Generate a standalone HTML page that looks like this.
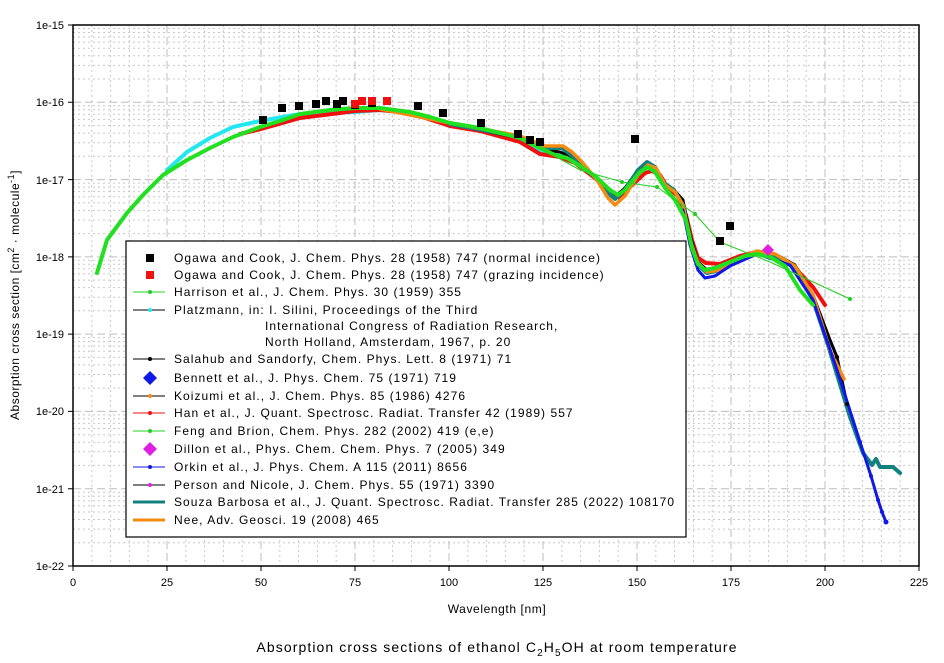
<!DOCTYPE html>
<html><head><meta charset="utf-8"><style>
body{margin:0;background:#fff;}
svg{display:block;font-family:"Liberation Sans",sans-serif;}
</style></head><body>
<svg width="944" height="663" viewBox="0 0 944 663" xmlns="http://www.w3.org/2000/svg">
<rect width="944" height="663" fill="#fff"/>
<g stroke="#c8c8c8" stroke-width="1" stroke-dasharray="2,3">
<path d="M91.8 25V566M110.6 25V566M129.4 25V566M148.2 25V566M185.8 25V566M204.6 25V566M223.4 25V566M242.2 25V566M279.8 25V566M298.6 25V566M317.4 25V566M336.2 25V566M373.8 25V566M392.6 25V566M411.4 25V566M430.2 25V566M467.8 25V566M486.6 25V566M505.4 25V566M524.2 25V566M561.8 25V566M580.6 25V566M599.4 25V566M618.2 25V566M655.8 25V566M674.6 25V566M693.4 25V566M712.2 25V566M749.8 25V566M768.6 25V566M787.4 25V566M806.2 25V566M843.8 25V566M862.6 25V566M881.4 25V566M900.2 25V566"/>
<path d="M73 542.7H919M73 529.1H919M73 519.5H919M73 512H919M73 505.8H919M73 500.7H919M73 496.2H919M73 492.2H919
M73 465.4H919M73 451.8H919M73 442.2H919M73 434.7H919M73 428.5H919M73 423.4H919M73 418.9H919M73 414.9H919
M73 388.1H919M73 374.5H919M73 364.9H919M73 357.4H919M73 351.2H919M73 346.1H919M73 341.6H919M73 337.6H919
M73 310.8H919M73 297.2H919M73 287.6H919M73 280.1H919M73 273.9H919M73 268.8H919M73 264.3H919M73 260.3H919
M73 233.6H919M73 220H919M73 210.4H919M73 202.9H919M73 196.7H919M73 191.6H919M73 187.1H919M73 183.1H919
M73 156.3H919M73 142.7H919M73 133.1H919M73 125.6H919M73 119.4H919M73 114.3H919M73 109.8H919M73 105.8H919
M73 79H919M73 65.4H919M73 55.8H919M73 48.3H919M73 42.1H919M73 37H919M73 32.5H919M73 28.5H919"/>
</g>
<g stroke="#bdbdbd" stroke-width="1" stroke-dasharray="8,4">
<path d="M167 25V566M261 25V566M355 25V566M449 25V566M543 25V566M637 25V566M731 25V566M825 25V566"/>
<path d="M73 102.3H919M73 179.6H919M73 256.9H919M73 334.1H919M73 411.4H919M73 488.7H919"/>
</g>
<rect x="73" y="25" width="846" height="541" fill="none" stroke="#000" stroke-width="1.5"/>
<g font-size="11" fill="#000" text-anchor="end">
<text x="64" y="29">1e-15</text><text x="64" y="106">1e-16</text><text x="64" y="184">1e-17</text><text x="64" y="261">1e-18</text><text x="64" y="338">1e-19</text><text x="64" y="415">1e-20</text><text x="64" y="493">1e-21</text><text x="64" y="570">1e-22</text>
</g>
<g stroke="#000"><path d="M68 25H73M68 102.3H73M68 179.6H73M68 256.9H73M68 334.1H73M68 411.4H73M68 488.7H73M68 566H73M73 566v5M167 566v5M261 566v5M355 566v5M449 566v5M543 566v5M637 566v5M731 566v5M825 566v5M919 566v5"/></g>
<g font-size="11" text-anchor="middle">
<text x="73" y="586">0</text><text x="167" y="586">25</text><text x="261" y="586">50</text><text x="355" y="586">75</text><text x="449" y="586">100</text><text x="543" y="586">125</text><text x="637" y="586">150</text><text x="731" y="586">175</text><text x="825" y="586">200</text><text x="919" y="586">225</text>
</g>
<text x="497" y="613" font-size="12" text-anchor="middle" letter-spacing="0.6">Wavelength [nm]</text>
<text x="497" y="652" font-size="14" text-anchor="middle" letter-spacing="1.1">Absorption cross sections of ethanol C<tspan font-size="10" dy="4">2</tspan><tspan dy="-4">H</tspan><tspan font-size="10" dy="4">5</tspan><tspan dy="-4">OH at room temperature</tspan></text>
<text transform="translate(19,295) rotate(-90)" font-size="12" text-anchor="middle" letter-spacing="0.5">Absorption cross section [cm<tspan font-size="9" dy="-5">2</tspan><tspan dy="5"> · molecule</tspan><tspan font-size="9" dy="-5">-1</tspan><tspan dy="5">]</tspan></text>

<g fill="none" stroke-linejoin="round" stroke-linecap="round">
<polyline stroke="#22e6f0" stroke-width="4" points="167,170 187,152 210,138 233,127 260,121 300,114 355,112 380,110 410,113 450,124 520,140 545,152 560,156 572,158"/>
<polyline stroke="#f01010" stroke-width="4" points="240,134 261,129 300,118 340,113 355,111 380,110 410,113 450,126 480,131 520,142 540,154 560,157 575,163 595,178 612,195 620,198 630,187 645,173 652,171 660,175 668,188 678,196 686,215 692,240 698,258 706,263 720,264 740,256 757,252 775,255 795,268 813,287 825,305"/>
<polyline stroke="#000" stroke-width="3" points="450,124 520,138 545,150 560,152 570,156 580,165 595,176 608,190 617,195 625,188 638,170 647,163 655,168 664,183 674,190 683,200 690,235 698,262 707,270 720,268 740,258 757,251 775,254 795,265 813,295 830,340 837,357 847,404"/>
<polyline stroke="#138080" stroke-width="4" points="450,124 520,137 545,148 562,148 570,154 580,163 595,177 607,192 615,199 625,190 638,170 647,162 655,167 664,183 674,190 683,205 690,240 698,265 707,273 720,270 740,258 757,253 775,256 795,268 813,300 828,345 850,417 863,453 872,465 876,459 880,467 893,467 900,473"/>
<polyline stroke="#f58a10" stroke-width="3.5" points="380,109 450,123 520,136 545,146 563,146 572,152 582,162 597,180 608,198 615,205 625,196 638,175 648,165 656,168 665,185 675,192 683,205 690,240 698,263 707,272 720,270 740,258 757,251 775,254 795,266 813,295 830,350 844,379"/>
<polyline stroke="#1018e6" stroke-width="3" points="683,210 690,245 698,270 705,278 715,276 730,266 757,254 790,265 813,300 837,370 860,442 871,476 878,500 882,512 886,522"/>
<polyline stroke="#20e020" stroke-width="4" points="97,273 107,240 127,213 143,195 163,175 187,160 210,148 233,137 260,127 280,121 300,114 330,110 355,108 380,108 410,112 430,117 450,123 480,128 520,138 540,148 555,155 567,158 580,166 595,176 610,190 618,195 625,190 640,172 648,167 655,172 665,188 675,200 686,220 692,248 698,264 705,270 715,268 730,262 745,256 757,254 770,257 785,266 800,290 813,305"/>
<polyline stroke="#20d020" stroke-width="1" points="540,148 580,170 622,182 657,187 695,214 720,242 770,262 850,299"/>
</g>
<g fill="#20d020"><circle cx="622" cy="182" r="2"/><circle cx="657" cy="187" r="2"/><circle cx="695" cy="214" r="2"/><circle cx="720" cy="242" r="2"/><circle cx="850" cy="299" r="2"/></g>
<g fill="#1018e6"><circle cx="860" cy="442" r="2"/><circle cx="871" cy="476" r="2"/><circle cx="878" cy="500" r="2"/><circle cx="882" cy="512" r="2"/><circle cx="886" cy="522" r="2.5"/></g>
<g fill="#000"><circle cx="837" cy="357" r="2"/><circle cx="847" cy="404" r="2"/></g>
<g fill="#000">
<rect x="259" y="116" width="8" height="8"/><rect x="278" y="104" width="8" height="8"/><rect x="295" y="102" width="8" height="8"/><rect x="312" y="100" width="8" height="8"/><rect x="322" y="97" width="8" height="8"/><rect x="333" y="100" width="8" height="8"/><rect x="339" y="97" width="8" height="8"/><rect x="351" y="101" width="8" height="8"/><rect x="368" y="99" width="8" height="8"/><rect x="414" y="102" width="8" height="8"/><rect x="439" y="109" width="8" height="8"/><rect x="477" y="119" width="8" height="8"/><rect x="514" y="130" width="8" height="8"/><rect x="526" y="136" width="8" height="8"/><rect x="536" y="138" width="8" height="8"/><rect x="631" y="135" width="8" height="8"/><rect x="726" y="222" width="8" height="8"/><rect x="716" y="237" width="8" height="8"/>
</g>
<g fill="#f01010"><rect x="358" y="97" width="8" height="8"/><rect x="368" y="97" width="8" height="8"/><rect x="383" y="97" width="8" height="8"/><rect x="351" y="100" width="8" height="8"/></g>
<polygon points="768,244 774,250 768,256 762,250" fill="#e020e0"/>

<rect x="126" y="241" width="560" height="296" fill="#fff" stroke="#000" stroke-width="1.2"/>
<g font-size="12" fill="#000" letter-spacing="1.05">
<text x="174" y="262">Ogawa and Cook, J. Chem. Phys. 28 (1958) 747 (normal incidence)</text>
<text x="174" y="279">Ogawa and Cook, J. Chem. Phys. 28 (1958) 747 (grazing incidence)</text>
<text x="174" y="296">Harrison et al., J. Chem. Phys. 30 (1959) 355</text>
<text x="174" y="314">Platzmann, in: I. Silini, Proceedings of the Third</text>
<text x="265" y="330">International Congress of Radiation Research,</text>
<text x="265" y="346">North Holland, Amsterdam, 1967, p. 20</text>
<text x="174" y="363">Salahub and Sandorfy, Chem. Phys. Lett. 8 (1971) 71</text>
<text x="174" y="382">Bennett et al., J. Phys. Chem. 75 (1971) 719</text>
<text x="174" y="400">Koizumi et al., J. Chem. Phys. 85 (1986) 4276</text>
<text x="174" y="417">Han et al., J. Quant. Spectrosc. Radiat. Transfer 42 (1989) 557</text>
<text x="174" y="435">Feng and Brion,  Chem. Phys. 282 (2002) 419 (e,e)</text>
<text x="174" y="453">Dillon et al., Phys. Chem. Chem. Phys. 7 (2005) 349</text>
<text x="174" y="471">Orkin et al., J. Phys. Chem. A 115 (2011) 8656</text>
<text x="174" y="489">Person and Nicole, J. Chem. Phys. 55 (1971) 3390</text>
<text x="174" y="506">Souza Barbosa et al., J. Quant. Spectrosc. Radiat. Transfer 285 (2022) 108170</text>
<text x="174" y="524">Nee, Adv. Geosci. 19 (2008) 465</text>
</g>
<rect x="146" y="254" width="8" height="8" fill="#000"/>
<rect x="146" y="271" width="8" height="8" fill="#f01010"/>
<g stroke-width="1">
<line x1="133" y1="292" x2="165" y2="292" stroke="#20d020"/><circle cx="150" cy="292" r="2" fill="#20d020"/>
<line x1="133" y1="310" x2="165" y2="310" stroke="#000"/><circle cx="150" cy="310" r="2" fill="#22e6f0"/>
<line x1="133" y1="359" x2="165" y2="359" stroke="#000"/><circle cx="150" cy="359" r="2" fill="#000"/>
<polygon points="150,371 157,378 150,385 143,378" fill="#1018e6"/>
<line x1="133" y1="396" x2="165" y2="396" stroke="#000"/><circle cx="150" cy="396" r="2" fill="#f58a10"/>
<line x1="133" y1="413" x2="165" y2="413" stroke="#f01010"/><circle cx="150" cy="413" r="2" fill="#f01010"/>
<line x1="133" y1="431" x2="165" y2="431" stroke="#20d020"/><circle cx="150" cy="431" r="2" fill="#20d020"/>
<polygon points="150,442 157,449 150,456 143,449" fill="#e020e0"/>
<line x1="133" y1="467" x2="165" y2="467" stroke="#1018e6"/><circle cx="150" cy="467" r="2" fill="#1018e6"/>
<line x1="133" y1="485" x2="165" y2="485" stroke="#000"/><circle cx="150" cy="485" r="2" fill="#e020e0"/>
<line x1="133" y1="502" x2="165" y2="502" stroke="#138080" stroke-width="3"/>
<line x1="133" y1="520" x2="165" y2="520" stroke="#f58a10" stroke-width="3"/>
</g>
</svg>
</body></html>
